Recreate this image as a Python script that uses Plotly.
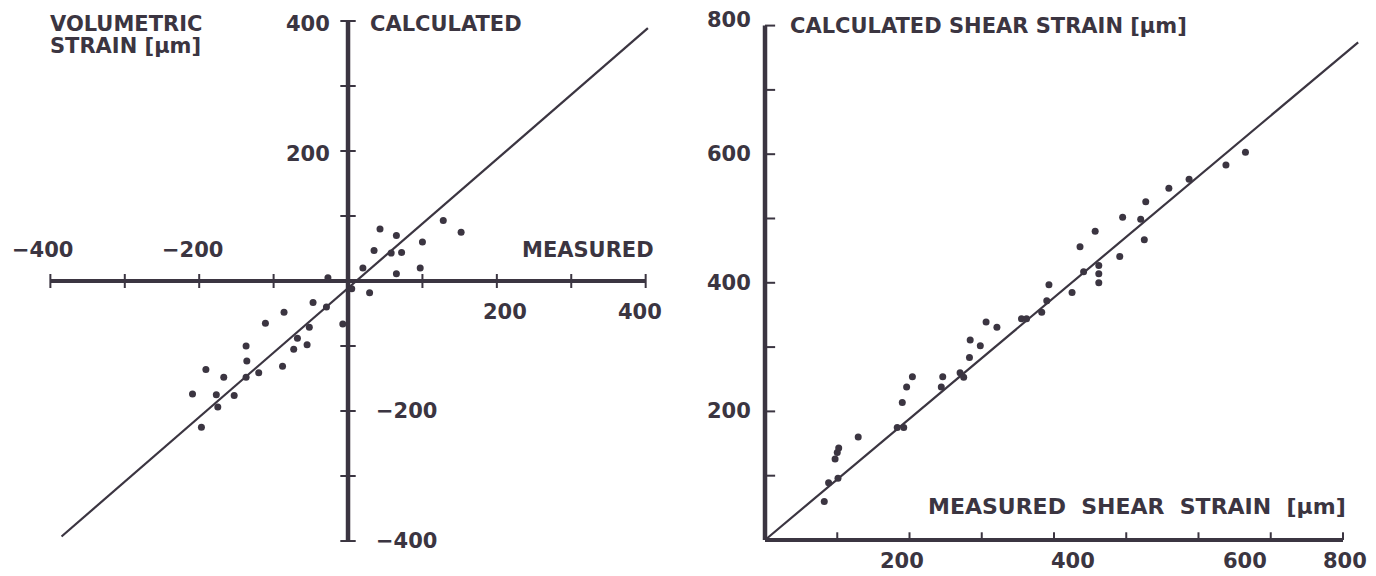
import plotly.graph_objects as go

# ---------------- data ----------------
# Left panel: volumetric strain [µm]
vol_measured = [43, 65, 128, 152, 100, 35, 58, 72, 97, 65, 20, 29, -27, -47, -29, -7, 5,
                -86, -111, -52, -68, -55, -73, -137, -136, -88, -120, -137, -191, -167,
                -209, -177, -153, -175, -197]
vol_calculated = [80, 70, 93, 75, 60, 47, 43, 44, 20, 11, 20, -18, 5, -33, -40, -66, -12,
                  -48, -65, -71, -88, -98, -105, -100, -123, -131, -141, -148, -136, -148,
                  -174, -175, -176, -194, -225]

# Right panel: shear strain [µm]
shear_measured = [82, 88, 101, 97, 100, 102, 129, 183, 192, 190, 196, 204, 244, 246, 270,
                  275, 283, 298, 284, 306, 321, 355, 362, 383, 390, 393, 425, 441, 436, 462,
                  462, 462, 491, 457, 495, 520, 525, 527, 559, 587, 638, 665]
shear_calculated = [60, 89, 96, 126, 136, 143, 160, 175, 175, 214, 238, 254, 238, 254, 260,
                    253, 284, 302, 311, 339, 331, 344, 344, 354, 372, 397, 385, 417, 456, 427,
                    414, 400, 441, 480, 502, 499, 467, 526, 547, 561, 583, 603]

# reference (1:1) lines as drawn
vol_ref_x = [-385, 403]
vol_ref_y = [-393, 389]
shear_ref_x = [0, 821]
shear_ref_y = [0, 774]

# axes / ticks / labels
vol_ticks = [-400, -300, -200, -100, 100, 200, 300, 400]
vol_xlabels = [-400, -200, 200, 400]
vol_ylabels = [400, 200, -200, -400]
shear_ticks = [100, 200, 300, 400, 500, 600, 700, 800]
shear_labels = [200, 400, 600, 800]

INK = "#3b3541"
FONT = dict(family="DejaVu Sans", size=21, color=INK)

fig = go.Figure()

# ---------------- left panel ----------------
fig.add_trace(go.Scatter(x=[min(vol_ticks), max(vol_ticks)], y=[0, 0], mode="lines",
                         line=dict(color=INK, width=4), xaxis="x", yaxis="y", hoverinfo="skip"))
fig.add_trace(go.Scatter(x=[0, 0], y=[min(vol_ticks), max(vol_ticks)], mode="lines",
                         line=dict(color=INK, width=4.5), xaxis="x", yaxis="y", hoverinfo="skip"))
fig.add_trace(go.Scatter(x=vol_ticks, y=[0] * len(vol_ticks), mode="markers",
                         marker=dict(symbol="line-ns", size=10, line=dict(width=2, color=INK)),
                         xaxis="x", yaxis="y", hoverinfo="skip"))
fig.add_trace(go.Scatter(x=[0] * len(vol_ticks), y=vol_ticks, mode="markers",
                         marker=dict(symbol="line-ew", size=11, line=dict(width=2, color=INK)),
                         xaxis="x", yaxis="y", hoverinfo="skip"))
fig.add_trace(go.Scatter(x=vol_ref_x, y=vol_ref_y, mode="lines",
                         line=dict(color=INK, width=2.2), xaxis="x", yaxis="y"))
fig.add_trace(go.Scatter(x=vol_measured, y=vol_calculated, mode="markers",
                         marker=dict(size=7, color=INK), xaxis="x", yaxis="y"))

# ---------------- right panel ----------------
tick_len_x = 12
tick_len_y = 14
fig.add_trace(go.Scatter(x=[0, max(shear_ticks)], y=[0, 0], mode="lines",
                         line=dict(color=INK, width=4), xaxis="x2", yaxis="y2", hoverinfo="skip"))
fig.add_trace(go.Scatter(x=[0, 0], y=[0, max(shear_ticks)], mode="lines",
                         line=dict(color=INK, width=4.5), xaxis="x2", yaxis="y2", hoverinfo="skip"))
tx, ty = [], []
for t in shear_ticks:
    tx += [t, t, None]
    ty += [0, tick_len_x, None]
fig.add_trace(go.Scatter(x=tx, y=ty, mode="lines", line=dict(color=INK, width=2),
                         xaxis="x2", yaxis="y2", hoverinfo="skip"))
tx, ty = [], []
for t in shear_ticks:
    tx += [0, tick_len_y, None]
    ty += [t, t, None]
fig.add_trace(go.Scatter(x=tx, y=ty, mode="lines", line=dict(color=INK, width=2),
                         xaxis="x2", yaxis="y2", hoverinfo="skip"))
fig.add_trace(go.Scatter(x=shear_ref_x, y=shear_ref_y, mode="lines",
                         line=dict(color=INK, width=2.2), xaxis="x2", yaxis="y2"))
fig.add_trace(go.Scatter(x=shear_measured, y=shear_calculated, mode="markers",
                         marker=dict(size=7, color=INK), xaxis="x2", yaxis="y2"))

# ---------------- text ----------------
ann = []
def A(text, **kw):
    d = dict(text="<b>" + text + "</b>", showarrow=False, font=FONT)
    d.update(kw)
    ann.append(d)

# left panel labels
A("VOLUMETRIC", xref="paper", yref="paper", x=48 / 1376, y=1 - 24 / 576, xanchor="left", yanchor="middle")
A("STRAIN [µm]", xref="paper", yref="paper", x=48 / 1376, y=1 - 46 / 576, xanchor="left", yanchor="middle")
A("CALCULATED", xref="x", yref="y", x=0, y=400, xanchor="left", yanchor="middle", xshift=20, yshift=-3)
A("MEASURED", xref="x", yref="y", x=400, y=0, xanchor="right", yanchor="middle", xshift=10, yshift=31)
x_shifts = {-400: -8, -200: -7, 200: 8, 400: -6}
for v in vol_xlabels:
    A(str(v).replace("-", "−"), xref="x", yref="y", x=v, y=0, xanchor="center", yanchor="middle",
      xshift=x_shifts[v], yshift=31 if v < 0 else -31)
for v in vol_ylabels:
    if v > 0:
        A(str(v), xref="x", yref="y", x=0, y=v, xanchor="right", yanchor="middle", xshift=-16, yshift=-3)
    else:
        A(str(v).replace("-", "−"), xref="x", yref="y", x=0, y=v, xanchor="left", yanchor="middle", xshift=26)

# right panel labels
A("CALCULATED SHEAR STRAIN [µm]", xref="paper", yref="paper", x=788 / 1376, y=1 - 26 / 576,
  xanchor="left", yanchor="middle")
A("MEASURED&nbsp; SHEAR&nbsp; STRAIN&nbsp; [µm]", xref="paper", yref="paper", x=1348 / 1376,
  y=1 - 506 / 576, xanchor="right", yanchor="middle", font=dict(FONT, size=22))
sx_shifts = {200: -8, 400: 19, 600: 47, 800: 2}
for v in shear_labels:
    A(str(v), xref="x2", yref="y2", x=v, y=0, xanchor="center", yanchor="middle",
      xshift=sx_shifts[v], yshift=-21)
    A(str(v), xref="x2", yref="y2", x=0, y=v, xanchor="right", yanchor="middle", xshift=-12,
      yshift=6 if v == 800 else 0)

fig.update_layout(
    width=1376, height=576,
    margin=dict(l=0, r=0, t=0, b=0),
    paper_bgcolor="white", plot_bgcolor="white",
    showlegend=False,
    xaxis=dict(domain=[0, 0.5], range=[-467.7, 456.9], visible=False, fixedrange=True),
    yaxis=dict(domain=[0, 1], range=[-453.8, 432.3], visible=False, fixedrange=True, anchor="x"),
    xaxis2=dict(domain=[0.5, 1], range=[-106.6, 845.7], visible=False, fixedrange=True, anchor="y2"),
    yaxis2=dict(domain=[0, 1], range=[-56, 839.8], visible=False, fixedrange=True, anchor="x2"),
    annotations=ann,
)

fig.write_html("out.html", config=dict(displayModeBar=False),
               post_script="document.body.style.margin='0';document.body.style.overflow='hidden';")
